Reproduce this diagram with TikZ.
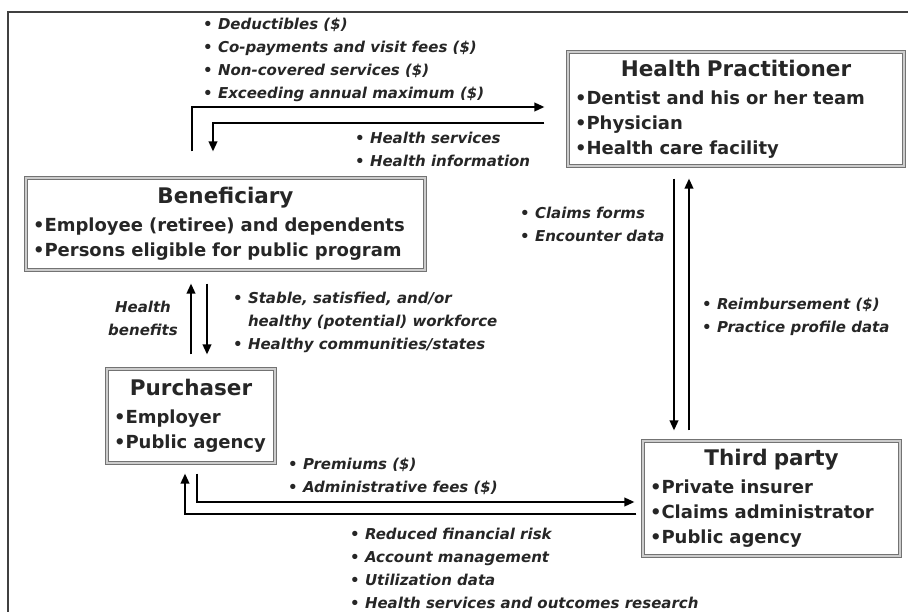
\documentclass[tikz,border=0pt]{standalone}
\usepackage{fontspec}
\setmainfont{DejaVu Sans}
\usetikzlibrary{arrows.meta}

\newcommand\boxtitle[1]{{\centering\fontsize{21.5}{26}\selectfont #1\par}\vspace{3pt}}

\begin{document}
\begin{tikzpicture}[x=1pt,y=-1pt,
  party/.style={draw=black!55, double=black!20, double distance=1.4pt, line width=1.1pt,
    inner sep=7pt, align=left, text=black!85,
    font=\fontsize{18}{25}\selectfont\bfseries},
  flow/.style={line width=2pt, -{Triangle[length=10pt,width=8.5pt]}},
  note/.style={anchor=west, align=left, inner sep=0pt, text=black!85,
    font=\fontsize{15}{23}\selectfont\bfseries\itshape}]

\useasboundingbox (0,0) rectangle (908,612);
\draw[line width=1.2pt, black!75] (8,612) -- (8,12) -- (908,12);

\node[party, text width=322pt, minimum height=114pt] (hp) at (736,109)
  {\boxtitle{Health Practitioner}•Dentist and his or her team\\•Physician\\•Health care facility};
\node[party, text width=385pt, minimum height=92pt] (benef) at (225.5,224)
  {\boxtitle{Beneficiary}•Employee (retiree) and dependents\\•Persons eligible for public program};
\node[party, text width=154pt, minimum height=94pt] (purch) at (191,416)
  {\boxtitle{Purchaser}•Employer\\•Public agency};
\node[party, text width=243pt, minimum height=115pt] (third) at (771.5,498.5)
  {\boxtitle{Third party}•Private insurer\\•Claims administrator\\•Public agency};

\draw[flow, shorten <=26pt, shorten >=23pt] (benef.north -| 192,0) |- (hp.west |- 0,107);
\draw[flow, shorten <=23pt, shorten >=26pt] (hp.west |- 0,123) -| (benef.north -| 213,0);
\draw[flow, shorten <=14pt, shorten >=13pt] (purch.north -| 191,0) -- (benef.south -| 191,0);
\draw[flow, shorten <=13pt, shorten >=14pt] (benef.south -| 207,0) -- (purch.north -| 207,0);
\draw[flow, shorten <=12pt, shorten >=10pt] (hp.south -| 674,0) -- (third.north -| 674,0);
\draw[flow, shorten <=10pt, shorten >=12pt] (third.north -| 689,0) -- (hp.south -| 689,0);
\draw[flow, shorten <=10pt, shorten >=8pt] (purch.south -| 197,0) |- (third.west |- 0,502);
\draw[flow, shorten <=6pt, shorten >=10pt] (third.west |- 0,514) -| (purch.south -| 185,0);

\node[note] (lblTop) at (203,60) {• Deductibles (\$)\\• Co-payments and visit fees (\$)\\• Non-covered services (\$)\\• Exceeding annual maximum (\$)};
\node[note] (lblServ) at (355,149.5) {• Health services\\• Health information};
\node[note] (lblClaims) at (520,224) {• Claims forms\\• Encounter data};
\node[note] (lblReimb) at (702,317) {• Reimbursement (\$)\\• Practice profile data};
\node[note, anchor=center, align=center] (lblBenefits) at (143,318.5) {Health\\benefits};
\node[note] (lblWork) at (233,322.5) {• Stable, satisfied, and/or\\\hphantom{• }healthy (potential) workforce\\• Healthy communities/states};
\node[note] (lblPrem) at (288,476.5) {• Premiums (\$)\\• Administrative fees (\$)};
\node[note] (lblRisk) at (350,568.5) {• Reduced financial risk\\• Account management\\• Utilization data\\• Health services and outcomes research};

\end{tikzpicture}
\end{document}
